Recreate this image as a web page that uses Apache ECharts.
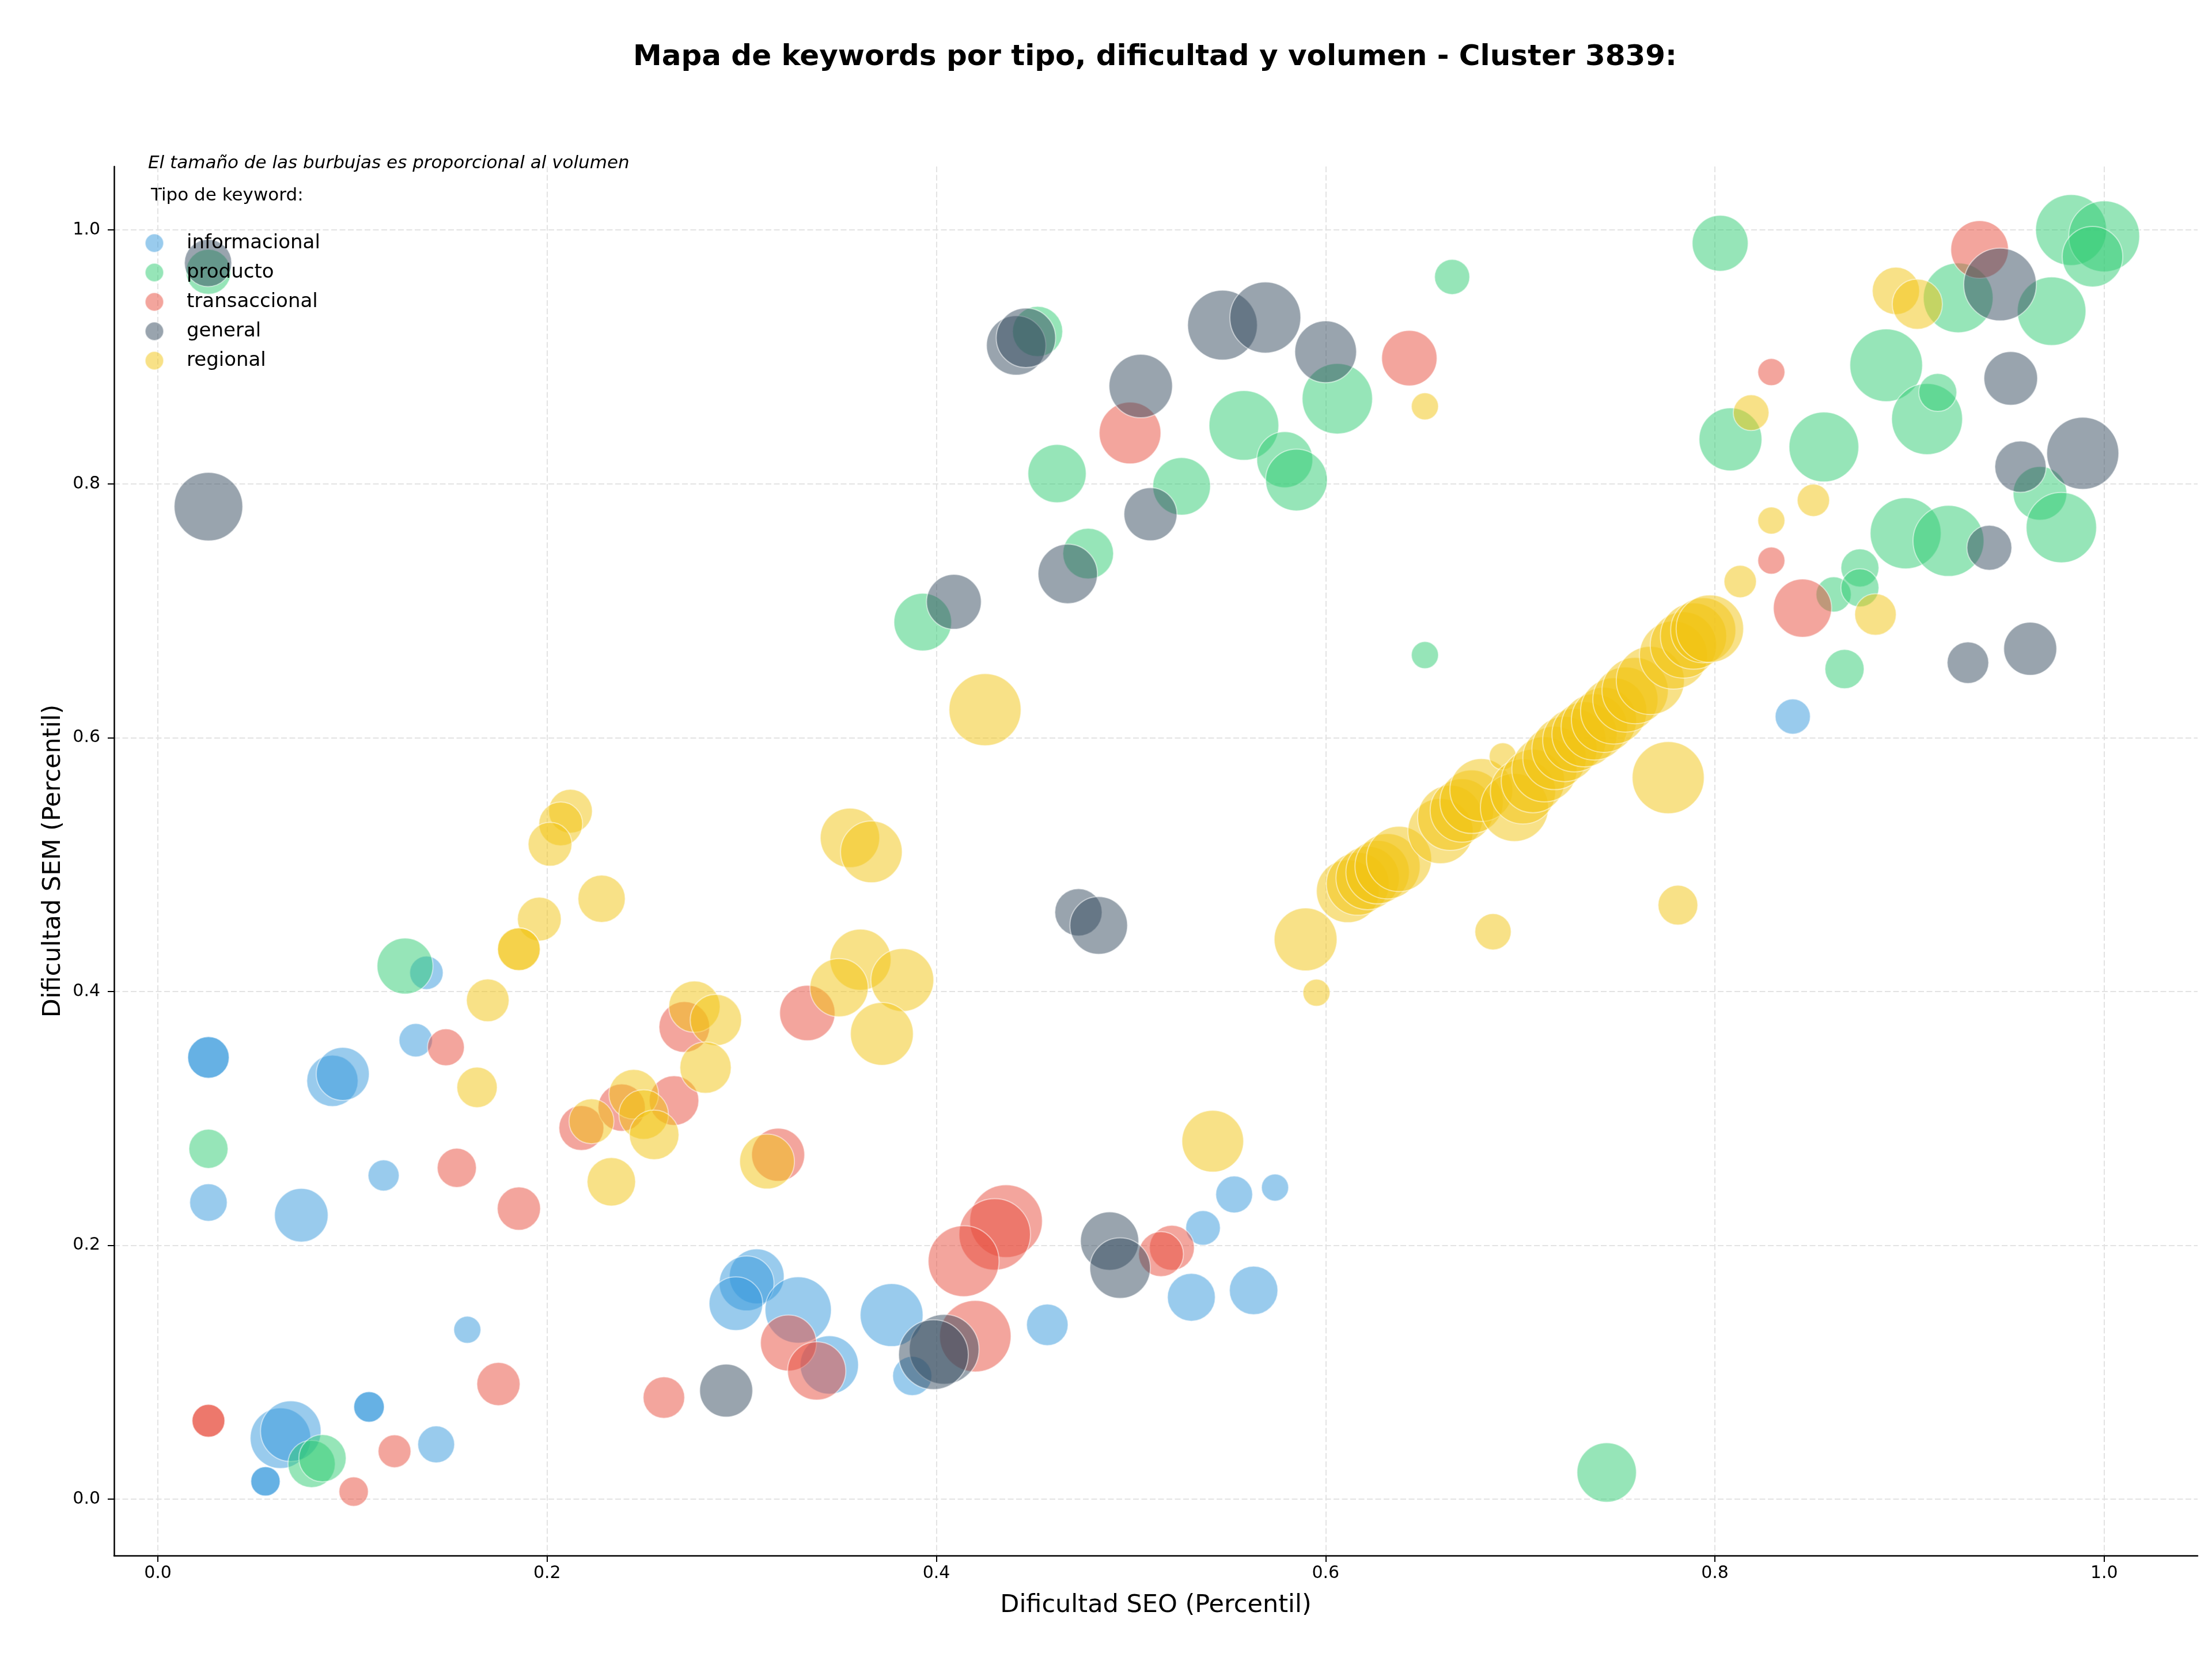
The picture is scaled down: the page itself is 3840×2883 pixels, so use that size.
<!DOCTYPE html>
<html>
<head>
<meta charset="utf-8">
<title>Mapa de keywords</title>
<script src="https://cdn.jsdelivr.net/npm/echarts@6.0.0/dist/echarts.min.js"></script>
<style>
  html, body { margin: 0; padding: 0; background: #fff; }
  #main { width: 3840px; height: 2883px; }
</style>
</head>
<body>
<div id="main"></div>
<script>
// [dificultad SEO, dificultad SEM, volumen]
const informacional = [
  [0.026, 0.348, 2160], [0.026, 0.348, 2160], [0.0897, 0.3296, 3300], [0.095, 0.335, 3520],
  [0.138, 0.4147, 1400], [0.1325, 0.3616, 1400], [0.026, 0.2337, 1760], [0.0737, 0.2237, 3600],
  [0.116, 0.255, 1210], [0.159, 0.1334, 920], [0.1085, 0.0726, 1170], [0.1085, 0.0726, 1170],
  [0.143, 0.0431, 1700], [0.063, 0.048, 4590], [0.0683, 0.0535, 4590], [0.0553, 0.014, 1080],
  [0.0553, 0.014, 1080], [0.3077, 0.1755, 3760], [0.3025, 0.170, 3760], [0.297, 0.154, 3600],
  [0.329, 0.149, 5500], [0.345, 0.1057, 4250], [0.377, 0.145, 4950], [0.3876, 0.097, 1920],
  [0.457, 0.1373, 2160], [0.531, 0.159, 2870], [0.563, 0.1644, 2940], [0.537, 0.2137, 1500],
  [0.553, 0.240, 1700], [0.574, 0.2455, 920], [0.840, 0.6166, 1550]
];
const producto = [
  [0.026, 0.967, 2530], [0.127, 0.420, 3920], [0.026, 0.276, 1920], [0.079, 0.0277, 2800],
  [0.0846, 0.0322, 2800], [0.7444, 0.021, 4420], [0.393, 0.691, 4160], [0.478, 0.745, 3220],
  [0.462, 0.808, 4250], [0.526, 0.798, 4160], [0.452, 0.920, 3150], [0.558, 0.846, 6090],
  [0.579, 0.819, 3920], [0.585, 0.803, 4770], [0.606, 0.867, 6200], [0.665, 0.963, 1550],
  [0.651, 0.665, 920], [0.8027, 0.9895, 3920], [0.983, 1.0, 6300], [1.0, 0.995, 6300],
  [0.994, 0.979, 4590], [0.925, 0.9465, 6090], [0.973, 0.936, 5890], [0.888, 0.8934, 6610],
  [0.808, 0.835, 4950], [0.856, 0.829, 6090], [0.909, 0.851, 6300], [0.9145, 0.872, 1810],
  [0.967, 0.7925, 3600], [0.978, 0.7655, 6200], [0.898, 0.761, 6300], [0.920, 0.755, 6300],
  [0.8745, 0.7337, 1810], [0.861, 0.7128, 1550], [0.8745, 0.718, 1810], [0.8666, 0.654, 1920]
];
const transaccional = [
  [0.148, 0.356, 1700], [0.1536, 0.261, 1920], [0.1855, 0.2289, 2340], [0.2176, 0.2924, 2530],
  [0.2383, 0.3085, 2800], [0.2652, 0.314, 3080], [0.2705, 0.372, 3220], [0.3187, 0.2713, 3520],
  [0.3337, 0.383, 3840], [0.324, 0.123, 3920], [0.3385, 0.101, 4250], [0.26, 0.080, 2160],
  [0.175, 0.0907, 2340], [0.1216, 0.0377, 1350], [0.026, 0.0617, 1350], [0.026, 0.0617, 1350],
  [0.1006, 0.0059, 1080], [0.4358, 0.219, 6610], [0.430, 0.2086, 6400], [0.414, 0.1875, 6300],
  [0.420, 0.1284, 6400], [0.521, 0.198, 2530], [0.5154, 0.193, 2530], [0.4995, 0.840, 4770],
  [0.643, 0.899, 3840], [0.829, 0.888, 920], [0.936, 0.9846, 4160], [0.829, 0.7395, 920],
  [0.845, 0.702, 4250]
];
const general = [
  [0.0258, 0.974, 2800], [0.026, 0.782, 5890], [0.441, 0.909, 4420], [0.446, 0.915, 4420],
  [0.547, 0.925, 6090], [0.569, 0.931, 6300], [0.600, 0.904, 4770], [0.505, 0.877, 5040],
  [0.510, 0.776, 3520], [0.4675, 0.729, 4420], [0.409, 0.707, 3760], [0.473, 0.4624, 2800],
  [0.4834, 0.452, 4160], [0.489, 0.2033, 4250], [0.4944, 0.182, 4590], [0.404, 0.118, 6090],
  [0.3985, 0.1138, 6090], [0.292, 0.0855, 3520], [0.9465, 0.957, 6610], [0.952, 0.883, 3600],
  [0.957, 0.8135, 3300], [0.989, 0.824, 6500], [0.941, 0.7496, 2530], [0.930, 0.659, 2160],
  [0.962, 0.670, 3520]
];
const regional = [
  [0.212, 0.542, 2400], [0.207, 0.532, 2400], [0.2015, 0.516, 2400], [0.228, 0.473, 2800],
  [0.196, 0.457, 2400], [0.1855, 0.4333, 2280], [0.1855, 0.4333, 2280], [0.1695, 0.393, 2280],
  [0.164, 0.3244, 2040], [0.2228, 0.2977, 2530], [0.2445, 0.319, 3080], [0.2496, 0.303, 3080],
  [0.255, 0.287, 3080], [0.233, 0.250, 2940], [0.2757, 0.388, 3300], [0.2867, 0.3775, 3300],
  [0.2814, 0.340, 3300], [0.313, 0.266, 3760], [0.3556, 0.521, 4420], [0.3666, 0.510, 4770],
  [0.361, 0.425, 4680], [0.3825, 0.409, 4950], [0.350, 0.403, 4250], [0.372, 0.3666, 4950],
  [0.425, 0.622, 6500], [0.542, 0.282, 4770], [0.5897, 0.441, 4950], [0.5953, 0.399, 920],
  [0.686, 0.447, 1650], [0.781, 0.468, 1980], [0.776, 0.5685, 6500], [0.651, 0.861, 920],
  [0.8186, 0.856, 1600], [0.893, 0.952, 2800], [0.904, 0.9415, 3150], [0.8506, 0.787, 1310],
  [0.829, 0.771, 920], [0.813, 0.723, 1310], [0.8825, 0.697, 2160],
  [0.6114, 0.479, 4950], [0.6165, 0.4848, 4950], [0.6216, 0.4894, 5040], [0.6267, 0.494, 5040],
  [0.6318, 0.4986, 5320], [0.6377, 0.5044, 5320], [0.659, 0.5264, 5320], [0.664, 0.5368, 5320],
  [0.670, 0.5426, 5040], [0.675, 0.5495, 5040], [0.680, 0.5587, 4950], [0.691, 0.5853, 920],
  [0.697, 0.545, 5800], [0.7014, 0.5576, 5320], [0.7065, 0.5658, 5040], [0.7124, 0.575, 5320],
  [0.7176, 0.584, 5040], [0.7227, 0.591, 5320], [0.7278, 0.598, 5040], [0.733, 0.6026, 5320],
  [0.738, 0.6084, 5500], [0.743, 0.614, 5320], [0.748, 0.621, 5500], [0.754, 0.630, 5320],
  [0.759, 0.637, 5500], [0.7668, 0.645, 5800], [0.7787, 0.665, 5800], [0.7838, 0.673, 5500],
  [0.789, 0.680, 5500], [0.794, 0.6846, 5320], [0.7974, 0.6858, 5700]
];

const tiposKeyword = ['informacional', 'producto', 'transaccional', 'general', 'regional'];
const seriesData = [informacional, producto, transaccional, general, regional];
const colores = ['#3498db', '#2ecc71', '#e74c3c', '#34495e', '#f1c40f'];
const ticks = [0, 0.2, 0.4, 0.6, 0.8, 1.0];

const FONT = 'DejaVu Sans';
const chart = echarts.init(document.getElementById('main'));

const axisCommon = {
  type: 'value',
  nameLocation: 'middle',
  nameTextStyle: { fontSize: 43, color: '#000', fontFamily: FONT },
  axisLine: { show: true, onZero: false, lineStyle: { color: '#000', width: 2.5 } },
  axisTick: { show: true, length: 11, customValues: ticks, lineStyle: { color: '#000', width: 2 } },
  axisLabel: {
    customValues: ticks,
    formatter: v => v.toFixed(1),
    fontSize: 30, color: '#000', fontFamily: FONT
  },
  splitLine: { show: true, lineStyle: { color: '#e3e3e3', width: 2, type: [10, 4.5] } }
};

const option = {
  backgroundColor: '#fff',
  animation: false,
  title: {
    text: 'Mapa de keywords por tipo, dificultad y volumen - Cluster 3839:',
    left: 2000,
    textAlign: 'center',
    top: 70,
    textStyle: { fontSize: 50, fontWeight: 'bold', color: '#000', fontFamily: FONT }
  },
  graphic: [
    {
      type: 'text', left: 257, top: 268,
      style: { text: 'El tamaño de las burbujas es proporcional al volumen', font: 'italic 31px "DejaVu Sans"', fill: '#000' }
    },
    {
      type: 'text', left: 262, top: 324,
      style: { text: 'Tipo de keyword:', font: '31px "DejaVu Sans"', fill: '#000' }
    }
  ],
  legend: {
    data: tiposKeyword,
    orient: 'vertical',
    left: 246,
    top: 400,
    itemWidth: 32,
    itemHeight: 32,
    itemGap: 17,
    icon: 'circle',
    textStyle: { fontSize: 34, color: '#000', fontFamily: FONT, padding: [0, 0, 0, 35] }
  },
  grid: { left: 198, right: 25, top: 289, bottom: 183 },
  xAxis: Object.assign({}, axisCommon, {
    min: -0.0225, max: 1.048,
    name: 'Dificultad SEO (Percentil)',
    nameGap: 65,
    axisLabel: Object.assign({}, axisCommon.axisLabel, { margin: 16 })
  }),
  yAxis: Object.assign({}, axisCommon, {
    min: -0.0445, max: 1.05,
    name: 'Dificultad SEM (Percentil)',
    nameGap: 84,
    axisLabel: Object.assign({}, axisCommon.axisLabel, { margin: 24 })
  }),
  series: tiposKeyword.map((name, i) => ({
    name: name,
    type: 'scatter',
    data: seriesData[i],
    symbolSize: d => Math.sqrt(d[2]) * 1.55,
    itemStyle: { color: colores[i], opacity: 0.5, borderColor: '#fff', borderWidth: 2 },
    emphasis: { disabled: true }
  }))
};

chart.setOption(option);
</script>
</body>
</html>
